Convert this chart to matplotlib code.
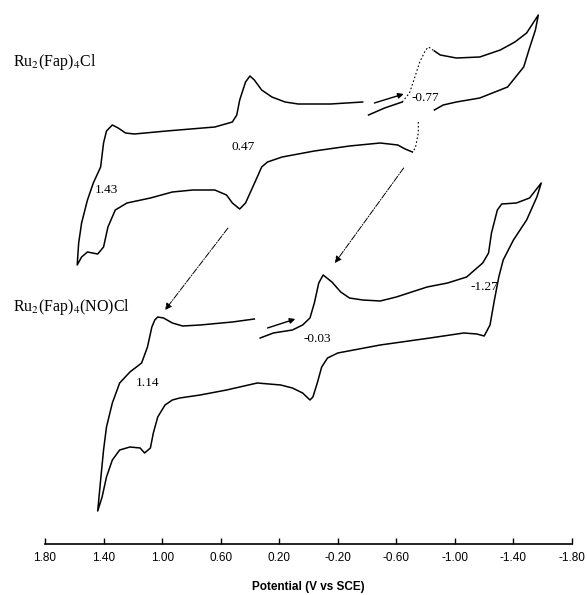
import numpy as np
import matplotlib
matplotlib.use("Agg")
import matplotlib.pyplot as plt

plt.rcParams["mathtext.fontset"] = "stix"

# Ru2(Fap)4Cl scan (potential in V vs SCE, current in arbitrary units)
top_v = [-0.41, -0.52, -0.64, -0.69, -0.72, -0.76, -0.80, -0.82, -0.86, -0.90, -1.01, -1.17,
         -1.31, -1.41, -1.49, -1.57, -1.55, -1.51, -1.47, -1.36, -1.17, -1.01, -0.92, -0.86,
         np.nan, -0.75, -0.75, -0.73, -0.71, -0.66, -0.61, -0.49, -0.28, -0.04, 0.07, 0.18,
         0.28, 0.32, 0.35, 0.39, 0.43, 0.47, 0.52, 0.56, 0.64, 0.79, 0.93, 1.08, 1.24, 1.32,
         1.37, 1.40, 1.44, 1.51, 1.55, 1.58, 1.57, 1.55, 1.51, 1.47, 1.42, 1.40, 1.38, 1.34,
         1.30, 1.25, 1.19, 0.97, 0.64, 0.52, 0.49, 0.47, 0.43, 0.40, 0.37, 0.32, 0.25, 0.16,
         0.07, -0.04, -0.15, -0.37]
top_i = [42.9, 43.6, 44.2, 45.1, 46.4, 48.2, 49.4, 49.7, 49.3, 48.9, 48.6, 48.7,
         49.4, 50.2, 51.1, 52.9, 51.4, 49.6, 47.7, 45.7, 44.6, 44.2, 43.9, 43.4,
         np.nan, 42.2, 41.1, 39.6, 39.2, 39.5, 39.9, 40.1, 39.8, 39.3, 39.0, 38.7,
         38.2, 37.7, 36.7, 35.4, 34.1, 33.5, 34.1, 34.9, 35.4, 35.4, 35.2, 34.6, 34.1, 33.4,
         31.7, 29.7, 29.0, 29.2, 28.7, 27.9, 30.1, 32.1, 34.4, 36.1, 37.7, 40.1, 41.3, 41.9,
         41.6, 41.1, 41.0, 41.3, 41.7, 42.2, 42.9, 44.4, 46.2, 46.8, 46.4, 45.4, 44.7, 44.2,
         44.0, 44.0, 44.0, 44.2]
# faint (steep) stretches of the -0.77 wave
top_faint = [(2, 8), (24, 28)]

# Ru2(Fap)4(NO)Cl scan
bot_v = [0.33, 0.24, 0.11, 0.04, -0.01, -0.04, -0.07, -0.10, -0.16, -0.22, -0.28, -0.37,
         -0.49, -0.60, -0.81, -0.95, -1.08, -1.19, -1.23, -1.25, -1.29, -1.32, -1.42, -1.51,
         -1.59, -1.56, -1.49, -1.40, -1.33, -1.30, -1.27, -1.24, -1.20, -1.15, -1.06, -0.83,
         -0.49, -0.20, -0.13, -0.09, -0.06, -0.03, -0.01, 0.04, 0.11, 0.19, 0.35, 0.56, 0.74,
         0.88, 0.93, 0.98, 1.03, 1.06, 1.08, 1.12, 1.15, 1.22, 1.29, 1.34, 1.38, 1.41, 1.44,
         1.42, 1.40, 1.38, 1.34, 1.29, 1.22, 1.14, 1.10, 1.07, 1.05, 1.03, 0.99, 0.93, 0.86,
         0.74, 0.52, 0.37]
bot_i = [20.6, 21.1, 21.4, 21.9, 22.6, 24.1, 26.1, 26.9, 26.2, 25.2, 24.6, 24.4,
         24.3, 24.7, 25.7, 26.1, 26.7, 28.1, 29.1, 31.1, 33.4, 34.0, 34.1, 34.6,
         36.1, 34.7, 32.4, 30.4, 28.4, 26.7, 24.4, 21.9, 20.8, 21.0, 21.1, 20.6,
         19.9, 19.1, 18.6, 17.7, 16.1, 14.7, 14.4, 15.1, 15.6, 15.9, 16.1, 15.4, 14.9,
         14.6, 14.4, 13.9, 12.7, 11.1, 9.6, 9.1, 9.6, 9.7, 9.4, 8.4, 6.7, 4.7, 3.3,
         6.4, 9.4, 11.7, 14.1, 16.1, 17.2, 18.1, 19.7, 21.7, 22.4, 22.7, 22.6, 22.1, 21.8,
         21.9, 22.2, 22.5]

# peak potential labels: (text, V, I)
peak_labels = [("0.47", 0.45, 39.7), ("1.43", 1.38, 35.4), ("-0.77", -0.80, 44.6),
               ("1.14", 1.10, 16.1), ("-0.03", -0.06, 20.5), ("-1.27", -1.20, 25.7)]
compound_labels = [(r"Ru$_2$(Fap)$_4$Cl", 2.02, 48.2),
                   (r"Ru$_2$(Fap)$_4$(NO)Cl", 2.02, 23.7)]
# dash-dot arrows linking the waves: (V0, I0, V1, I1)
link_arrows = [(0.55, 31.6, 0.98, 23.4), (-0.65, 37.6, -0.18, 28.1)]
# scan direction arrows
scan_arrows = [(-0.45, 44.1, -0.65, 45.0), (0.28, 21.6, 0.09, 22.5)]

xticks = [1.80, 1.40, 1.00, 0.60, 0.20, -0.20, -0.60, -1.00, -1.40, -1.80]

fig = plt.figure(figsize=(5.87, 5.95), dpi=100)
ax = fig.add_axes([45 / 587, 51 / 595, 527 / 587, 539 / 595])

tv, ti = np.array(top_v), np.array(top_i)
solid_i = ti.copy()
for a, b in top_faint:
    solid_i[a + 1:b] = np.nan
ax.plot(tv, solid_i, color="black", lw=1.1)
for a, b in top_faint:
    ax.plot(tv[a:b + 1], ti[a:b + 1], color="black", lw=0.8, ls=(0, (1.5, 2)))
ax.plot(bot_v, bot_i, color="black", lw=1.1)

for txt, v, i in peak_labels:
    ax.text(v, i, txt, ha="center", va="center", fontsize=9.5, family="Liberation Serif")
for txt, v, i in compound_labels:
    ax.text(v, i, txt, ha="left", va="center", fontsize=11.5, family="Liberation Serif",
            clip_on=False)

for v0, i0, v1, i1 in link_arrows:
    ax.annotate("", xy=(v1, i1), xytext=(v0, i0),
                arrowprops=dict(arrowstyle="-|>", color="black", lw=0.7, ls="-.",
                                mutation_scale=10, shrinkA=0, shrinkB=0))
for v0, i0, v1, i1 in scan_arrows:
    ax.annotate("", xy=(v1, i1), xytext=(v0, i0),
                arrowprops=dict(arrowstyle="-|>", color="black", lw=1.0,
                                mutation_scale=8, shrinkA=0, shrinkB=0))

ax.set_xlim(1.8, -1.8)
ax.set_ylim(0, 53.9)
ax.set_xticks(xticks)
ax.set_xticklabels([f"{t:.2f}" for t in xticks], fontsize=8.5, family="Liberation Sans")
ax.tick_params(axis="x", direction="in", length=4, width=1.0, pad=6)
ax.set_yticks([])
for side in ["left", "right", "top"]:
    ax.spines[side].set_visible(False)
ax.spines["bottom"].set_linewidth(1.2)
ax.set_xlabel("Potential (V vs SCE)", fontsize=8.5, fontweight="bold",
              family="Liberation Sans", labelpad=12)

fig.savefig("out.png", dpi=100)
